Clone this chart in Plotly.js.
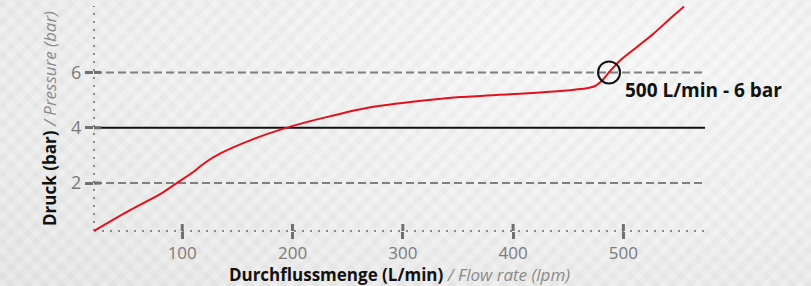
<!DOCTYPE html>
<html>
<head>
<meta charset="utf-8">
<script src="https://cdn.plot.ly/plotly-3.0.1.min.js"></script>
<style>
  html, body { margin: 0; padding: 0; width: 811px; height: 286px; overflow: hidden; }
  body {
    background-color: #eeeeee;
    background-image:
      repeating-linear-gradient(45deg, rgba(255,255,255,0.18) 0px, rgba(255,255,255,0.18) 6px, rgba(0,0,0,0.0) 6px, rgba(0,0,0,0.0) 12px),
      repeating-linear-gradient(-45deg, rgba(0,0,0,0.025) 0px, rgba(0,0,0,0.025) 6px, rgba(255,255,255,0.0) 6px, rgba(255,255,255,0.0) 12px),
      radial-gradient(ellipse at 75% 20%, #f6f6f6 0%, #eeeeee 55%, #e4e4e4 100%);
  }
  #chart { width: 811px; height: 286px; }
</style>
</head>
<body>
<div id="chart"></div>
<script>
// Flow (L/min) vs pressure (bar) curve
const flow     = [20, 53, 80, 95, 110, 120, 135, 165, 192, 225, 265, 307, 352, 397, 443, 468, 474, 480, 488, 497, 512, 527, 542, 555];
const pressure = [0.27, 1.03, 1.6, 2.0, 2.4, 2.72, 3.08, 3.6, 3.97, 4.33, 4.7, 4.93, 5.11, 5.21, 5.33, 5.44, 5.5, 5.68, 6.05, 6.43, 6.91, 7.39, 7.93, 8.38];

// Highlighted operating point
const pointFlow = [487];
const pointPressure = [6.0];
const pointLabel = "500 L/min - 6 bar";
const labelFlow = 500;
const labelPressure = 5.35;

// Axes
const xTicks = [100, 200, 300, 400, 500];
const yTicks = [2, 4, 6];
const dashedLevels = [2, 6];  // dashed guide lines
const refLine = 4;            // solid reference pressure
const xRange = [20, 574];
const yRange = [0.27, 8.4];

const tickColor = '#707070';

const shapes = [];
// dotted axis lines
shapes.push({type: 'line', xref: 'paper', yref: 'paper', x0: 0, x1: 1, y0: 0, y1: 0,
  line: {color: '#8a8a8a', width: 2, dash: '2px,6px'}, layer: 'below'});
shapes.push({type: 'line', xref: 'paper', yref: 'paper', x0: 0, x1: 0, y0: 0, y1: 1,
  line: {color: '#8a8a8a', width: 2, dash: '2px,6px'}, layer: 'below'});
// dashed guide lines
dashedLevels.forEach(v => shapes.push({type: 'line', xref: 'paper', yref: 'y', x0: 0, x1: 1, y0: v, y1: v,
  line: {color: '#7f7f7f', width: 2, dash: '8px,4px'}, layer: 'below'}));
// solid reference line
shapes.push({type: 'line', xref: 'paper', yref: 'y', x0: 0, x1: 1, y0: refLine, y1: refLine,
  line: {color: '#111111', width: 2}, layer: 'below'});
// inner half of crossing ticks
xTicks.forEach(v => shapes.push({type: 'line', xref: 'x', yref: 'paper', ysizemode: 'pixel', yanchor: 0,
  x0: v, x1: v, y0: 0, y1: 7, line: {color: tickColor, width: 3}}));
yTicks.forEach(v => shapes.push({type: 'line', yref: 'y', xref: 'paper', xsizemode: 'pixel', xanchor: 0,
  y0: v, y1: v, x0: 0, x1: 7, line: {color: tickColor, width: 3}}));

const traces = [
  {
    x: flow, y: pressure, type: 'scatter', mode: 'lines',
    line: {color: '#e3101c', width: 2, shape: 'spline', smoothing: 0.6},
    hoverinfo: 'skip', cliponaxis: true
  },
  {
    x: pointFlow, y: pointPressure, type: 'scatter', mode: 'markers',
    marker: {symbol: 'circle-open', size: 22, color: '#111111', line: {width: 2, color: '#111111'}},
    hoverinfo: 'skip', cliponaxis: false
  }
];

const layout = {
  width: 811, height: 286,
  margin: {l: 94, r: 106, t: 6, b: 55},
  paper_bgcolor: 'rgba(0,0,0,0)',
  plot_bgcolor: 'rgba(0,0,0,0)',
  showlegend: false,
  font: {family: 'Open Sans, sans-serif', color: '#777777', size: 17},
  xaxis: {
    range: xRange, tickvals: xTicks, ticktext: xTicks.map(String),
    showgrid: false, zeroline: false, showline: false,
    ticks: 'outside', ticklen: 7, tickwidth: 3, tickcolor: tickColor,
    tickfont: {family: 'Open Sans, sans-serif', size: 17, color: '#7a7a7a'},
    title: {
      text: '<b>Durchflussmenge (L/min)</b> <span style="font-style:italic;color:#8a8a8a">/ Flow rate (lpm)</span>',
      font: {family: 'Open Sans, sans-serif', size: 17, color: '#111111'},
      standoff: 5
    }
  },
  yaxis: {
    range: yRange, tickvals: yTicks, ticktext: yTicks.map(String),
    showgrid: false, zeroline: false, showline: false,
    ticks: 'outside', ticklen: 8, tickwidth: 3, tickcolor: tickColor,
    tickfont: {family: 'Open Sans, sans-serif', size: 18, color: '#7a7a7a'},
    title: {
      text: '<b>Druck (bar)</b> <span style="font-style:italic;color:#8a8a8a">/ Pressure (bar)</span>',
      font: {family: 'Open Sans, sans-serif', size: 17, color: '#111111'},
      standoff: 10
    }
  },
  shapes: shapes,
  annotations: [{
    x: labelFlow, y: labelPressure, xref: 'x', yref: 'y',
    text: '<b>' + pointLabel + '</b>', showarrow: false,
    xanchor: 'left', yanchor: 'middle',
    font: {family: 'Open Sans, sans-serif', size: 19, color: '#111111'}
  }]
};

Plotly.newPlot('chart', traces, layout, {displayModeBar: false, staticPlot: true});
</script>
</body>
</html>
